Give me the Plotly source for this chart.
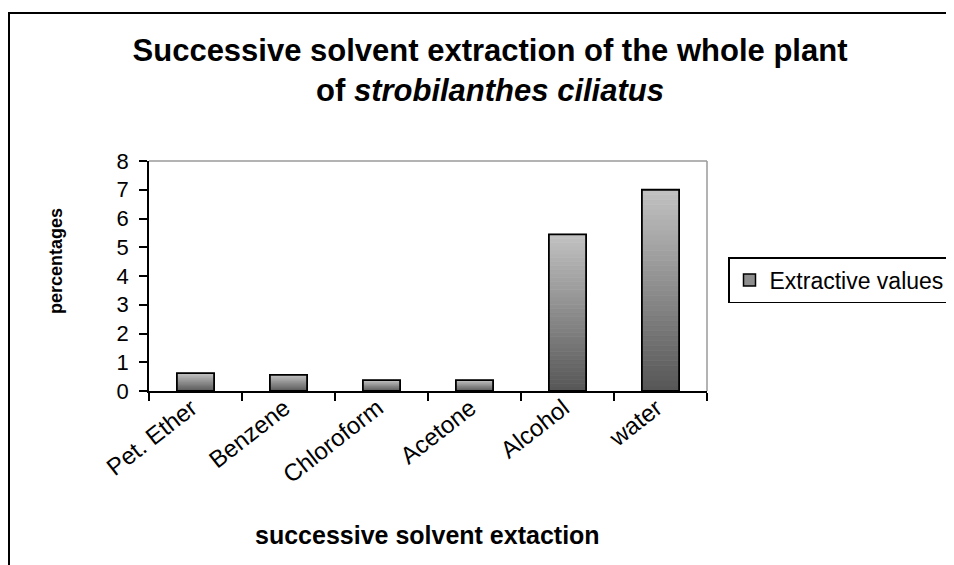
import numpy as np
import plotly.graph_objects as go

# ---- data ----
categories = ["Pet. Ether", "Benzene", "Chloroform", "Acetone", "Alcohol", "water"]
values = [0.62, 0.56, 0.38, 0.38, 5.45, 7.0]
series_name = "Extractive values"
y_tick_values = [0, 1, 2, 3, 4, 5, 6, 7, 8]

# ---- geometry ----
# the page body has an 8px margin, so the figure starts 8px in from the window edge
OFF = 8
W, H = 954 - OFF, 565 - OFF
# plot area edges in window pixels
L_w, R_w, T_w, B_w = 149, 707, 161, 391
L, R, T, B = L_w - OFF, R_w - OFF, T_w - OFF, B_w - OFF
PW, PH = R - L, B - T

def px_x(p):          # window pixel -> paper x
    return (p - OFF - L) / PW

def px_y(p):          # window pixel -> paper y
    return (B - (p - OFF)) / PH

FONT = "Arial, Liberation Sans, sans-serif"

# gradient (bottom dark -> top light), drawn as stacked slices of each bar
N_SLICES = 40
c_bottom = np.array([86, 86, 86])
c_top = np.array([194, 194, 194])
vals = np.array(values, dtype=float)

fig = go.Figure()
for i in range(N_SLICES):
    f = (i + 0.5) / N_SLICES
    c = (c_bottom + (c_top - c_bottom) * f).round().astype(int)
    col = f"rgb({c[0]},{c[1]},{c[2]})"
    fig.add_trace(go.Bar(
        x=categories, y=vals / N_SLICES, base=vals * i / N_SLICES,
        marker=dict(color=col, line=dict(color=col, width=0.8)),
        showlegend=False, hoverinfo="skip",
    ))

# outline of each bar
fig.add_trace(go.Bar(
    x=categories, y=values, name=series_name,
    marker=dict(color="rgba(0,0,0,0)", line=dict(color="black", width=1.8)),
    showlegend=False,
))

# legend entry
fig.add_trace(go.Bar(
    x=[None], y=[None], name=series_name,
    marker=dict(color="#8e8e8e", line=dict(color="black", width=1.5)),
    showlegend=True,
))

fig.update_layout(
    width=W, height=H, autosize=False,
    margin=dict(l=L, r=W - R, t=T, b=H - B, autoexpand=False),
    paper_bgcolor="white", plot_bgcolor="white",
    barmode="overlay", bargap=0.6,
    font=dict(family=FONT, color="black"),
    title=dict(
        text="<b>Successive solvent extraction of the whole plant<br>of <i>strobilanthes ciliatus</i></b>",
        font=dict(size=31, family=FONT, color="black"),
        x=px_x(490), xref="paper", xanchor="center",
        y=1 - (61 - OFF) / H, yref="container", yanchor="middle",
    ),
    legend=dict(
        x=px_x(728), y=px_y(257), xanchor="left", yanchor="top",
        bordercolor="black", borderwidth=1.5, bgcolor="white",
        font=dict(size=23, family=FONT, color="black"),
        itemwidth=30,
    ),
    xaxis=dict(
        range=[-0.5, len(categories) - 0.5],
        showline=True, linecolor="black", linewidth=1.5,
        ticks="outside", tickson="boundaries", ticklen=8,
        tickcolor="black", tickwidth=1.5,
        tickangle=-38, tickfont=dict(size=24, family=FONT, color="black"),
        ticklabelstandoff=-8, ticklabelshift=-4,
        showgrid=False, zeroline=False,
    ),
    yaxis=dict(
        range=[0, 8], tickvals=y_tick_values,
        showline=True, linecolor="black", linewidth=1.5,
        ticks="outside", ticklen=8, tickcolor="black", tickwidth=1.5,
        ticklabelstandoff=6,
        tickfont=dict(size=22, family=FONT, color="black"),
        showgrid=False, zeroline=False,
    ),
    annotations=[
        dict(text="<b>successive solvent extaction</b>", x=px_x(427), y=px_y(535),
             xref="paper", yref="paper", showarrow=False,
             xanchor="center", yanchor="middle",
             font=dict(size=25, family=FONT, color="black")),
        dict(text="<b>percentages</b>", x=px_x(56), y=px_y(261),
             xref="paper", yref="paper", showarrow=False, textangle=-90,
             xanchor="center", yanchor="middle",
             font=dict(size=18, family=FONT, color="black")),
    ],
    shapes=[
        # grey top and right edges of the plot area
        dict(type="line", xref="paper", yref="paper", x0=0, x1=1, y0=1, y1=1,
             line=dict(color="#9a9a9a", width=1.5)),
        dict(type="line", xref="paper", yref="paper", x0=1, x1=1, y0=0, y1=1,
             line=dict(color="#9a9a9a", width=1.5)),
        # outer chart border (runs off the right and bottom of the picture)
        dict(type="rect", xref="paper", yref="paper",
             x0=px_x(9), x1=px_x(1000), y0=px_y(620), y1=px_y(13),
             line=dict(color="black", width=2), fillcolor="rgba(0,0,0,0)"),
    ],
)

fig.write_html("out.html")
